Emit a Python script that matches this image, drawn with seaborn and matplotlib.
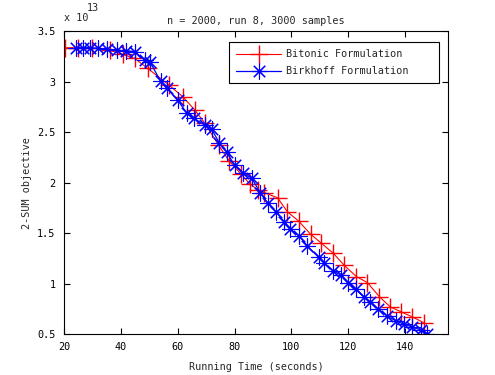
import matplotlib
matplotlib.use("Agg")
import matplotlib.pyplot as plt
import seaborn as sns
import numpy as np

# Values (objective in units of 1e13)
bitonic_time = [20.3, 24.9, 29.8, 36.1, 40.7, 44.9, 49.5, 56.8, 61.8, 66.0,
                69.5, 74.4, 78.2, 82.1, 85.3, 88.1, 90.5, 95.1, 98.6, 102.5,
                106.7, 110.5, 114.7, 118.6, 122.8, 126.7, 130.9, 134.7, 138.6,
                142.5, 146.7]
bitonic_obj = [3.335, 3.335, 3.335, 3.31, 3.27, 3.23, 3.13, 2.97, 2.85, 2.72,
               2.59, 2.37, 2.21, 2.09, 1.99, 1.93, 1.90, 1.85, 1.71, 1.62,
               1.49, 1.40, 1.30, 1.18, 1.07, 1.01, 0.87, 0.77, 0.72,
               0.67, 0.61]

birkhoff_time = [24.2, 26.7, 29.1, 31.9, 35.1, 38.6, 41.8, 44.9, 48.4, 50.2,
                 54.0, 56.1, 60.0, 63.2, 65.6, 69.5, 71.9, 74.7, 77.2, 80.0,
                 82.8, 86.0, 89.1, 91.6, 94.7, 97.5, 99.6, 102.8, 105.6, 109.5,
                 111.6, 114.7, 117.5, 120.0, 122.5, 125.6, 127.7, 130.5, 133.7,
                 136.8, 139.6, 142.5, 145.6, 147.7]
birkhoff_obj = [3.335, 3.335, 3.335, 3.33, 3.32, 3.31, 3.307, 3.297, 3.213, 3.198,
                3.005, 2.936, 2.817, 2.688, 2.639, 2.569, 2.530, 2.391, 2.302, 2.173,
                2.094, 2.045, 1.896, 1.797, 1.708, 1.609, 1.540, 1.470, 1.371, 1.262,
                1.203, 1.124, 1.084, 1.005, 0.946, 0.866, 0.817, 0.748, 0.678,
                0.629, 0.599, 0.569, 0.540, 0.505]

x_ticks = [20, 40, 60, 80, 100, 120, 140]
y_ticks = [0.5, 1, 1.5, 2, 2.5, 3, 3.5]
y_tick_labels = ["0.5", "1", "1.5", "2", "2.5", "3", "3.5"]

sns.set_style("ticks")
plt.rcParams['font.family'] = ['DejaVu Sans Mono']
fs = 7.3

fig = plt.figure(figsize=(4.95, 3.75), dpi=100)
ax = fig.add_axes([0.129, 0.109, 0.776, 0.808])

sns.lineplot(x=bitonic_time, y=bitonic_obj, sort=False, ax=ax, color='red',
             linewidth=0.8, marker='+', markersize=13, markeredgewidth=1.0,
             markeredgecolor='red', label='Bitonic Formulation')
sns.lineplot(x=birkhoff_time, y=birkhoff_obj, sort=False, ax=ax, color='blue',
             linewidth=0.9, marker=(8, 2, 0), markersize=11.5, markeredgewidth=0.8,
             markeredgecolor='blue', label='Birkhoff Formulation')

ax.set_xlim(20, 155)
ax.set_ylim(0.5, 3.5)
ax.set_xticks(x_ticks)
ax.set_yticks(y_ticks)
ax.set_yticklabels(y_tick_labels)
ax.tick_params(direction='in', top=True, right=True, length=4, width=0.8,
               labelsize=fs, colors='black', pad=6)
for s in ax.spines.values():
    s.set_visible(True)
    s.set_color('black')
    s.set_linewidth(0.8)

ax.set_title("n = 2000, run 8, 3000 samples", fontsize=fs, pad=5)
ax.set_xlabel("Running Time (seconds)", fontsize=fs, labelpad=7)
ax.set_ylabel("2-SUM objective", fontsize=fs, labelpad=4)

ax.text(0.0, 1.043, "x 10", transform=ax.transAxes, fontsize=fs, ha='left', va='center')
ax.text(0.06, 1.075, "13", transform=ax.transAxes, fontsize=fs, ha='left', va='center')

leg = ax.legend(loc='upper left', bbox_to_anchor=(0.43, 0.5, 0.547, 0.464),
                mode='expand', borderaxespad=0, fancybox=False,
                framealpha=1, edgecolor='black', fontsize=fs, handlelength=4.45,
                handletextpad=0.5, borderpad=0.7, labelspacing=0.7)
leg.get_frame().set_linewidth(0.8)

fig.savefig("out.png", dpi=100)
